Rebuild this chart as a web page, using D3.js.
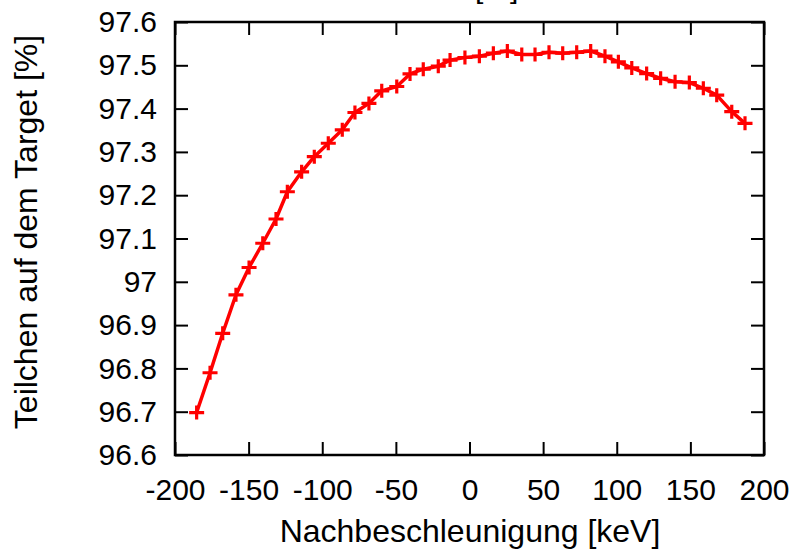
<!DOCTYPE html>
<html>
<head>
<meta charset="utf-8">
<script src="https://cdn.jsdelivr.net/npm/d3@7"></script>
<style>
  html, body { margin: 0; padding: 0; background: #fff; }
  svg { display: block; }
  text { font-family: "Liberation Sans", Arial, Helvetica, sans-serif; fill: #000; }
</style>
</head>
<body>
<svg id="chart" width="797" height="552"></svg>
<script>
// Post-acceleration voltage [keV]
const energy = [
  -185.3, -176.2, -167.6, -158.6, -149.7, -140.4, -131.4, -123.7, -114.0, -105.4,
  -95.9, -86.4, -77.8, -68.3, -59.6, -49.4, -40.4, -31.4, -21.2, -13.2,
  -3.1, 6.7, 16.2, 25.7, 35.5, 44.5, 54.0, 63.3, 72.8, 82.3,
  92.0, 101.1, 110.2, 120.3, 129.8, 139.6, 149.3, 158.8, 167.9, 178.1, 187.1
];
// Fraction of particles hitting the target [%]
const onTarget = [
  96.698, 96.790, 96.881, 96.970, 97.033, 97.089, 97.145, 97.208, 97.254, 97.289,
  97.320, 97.351, 97.391, 97.412, 97.441, 97.451, 97.480, 97.491, 97.498, 97.512,
  97.518, 97.521, 97.528, 97.533, 97.525, 97.525, 97.530, 97.528, 97.530, 97.533,
  97.521, 97.508, 97.494, 97.481, 97.470, 97.462, 97.460, 97.447, 97.431, 97.393, 97.366
];
const xTicks = [-200, -150, -100, -50, 0, 50, 100, 150, 200];
const yTicks = [96.6, 96.7, 96.8, 96.9, 97.0, 97.1, 97.2, 97.3, 97.4, 97.5, 97.6];
const xTitle = "Nachbeschleunigung [keV]";
const yTitle = "Teilchen auf dem Target [%]";
const topTitle = "[%]";

const svg = d3.select("#chart");
const plotL = 175, plotR = 764, plotT = 22, plotB = 455;
const TICK_FONT = 30, TITLE_FONT = 32;

const x = d3.scaleLinear().domain([-200, 200]).range([plotL, plotR]);
const y = d3.scaleLinear().domain([96.6, 97.6]).range([plotB, plotT]);

// Title, mostly above the visible area
svg.append("text")
  .attr("x", 475).attr("y", -2)
  .attr("font-size", TICK_FONT)
  .text(topTitle);

function styleAxis(g) {
  g.select(".domain").remove();
  g.selectAll(".tick line").attr("stroke", "#000").attr("stroke-width", 2);
  g.selectAll(".tick text").attr("font-size", TICK_FONT)
    .attr("font-family", "'Liberation Sans', Arial, sans-serif").attr("fill", "#000");
}

// Bottom axis with inward ticks
svg.append("g").attr("transform", `translate(0,${plotB})`)
  .call(d3.axisBottom(x).tickValues(xTicks).tickSize(-13).tickPadding(24)
    .tickFormat(d => String(d)))
  .call(styleAxis);

// Mirrored top ticks
svg.append("g").attr("transform", `translate(0,${plotT})`)
  .call(d3.axisTop(x).tickValues(xTicks).tickSize(-13).tickFormat(""))
  .call(styleAxis);

// Left axis with inward ticks
svg.append("g").attr("transform", `translate(${plotL},0)`)
  .call(d3.axisLeft(y).tickValues(yTicks).tickSize(-13).tickPadding(18)
    .tickFormat(d => String(+d.toFixed(1))))
  .call(styleAxis);

// Mirrored right ticks
svg.append("g").attr("transform", `translate(${plotR},0)`)
  .call(d3.axisRight(y).tickValues(yTicks).tickSize(-13).tickFormat(""))
  .call(styleAxis);

// Plot frame
svg.append("rect")
  .attr("x", plotL).attr("y", plotT)
  .attr("width", plotR - plotL).attr("height", plotB - plotT)
  .attr("fill", "none").attr("stroke", "#000").attr("stroke-width", 2.5);

// Axis titles
svg.append("text")
  .attr("x", 470).attr("y", 542)
  .attr("text-anchor", "middle").attr("font-size", TITLE_FONT)
  .text(xTitle);

svg.append("text")
  .attr("transform", "translate(37,232) rotate(-90)")
  .attr("text-anchor", "middle").attr("font-size", TITLE_FONT)
  .text(yTitle);

// Data line with "+" markers
const pts = energy.map((e, i) => [e, onTarget[i]]);
const line = d3.line().x(d => x(d[0])).y(d => y(d[1]));

svg.append("path")
  .datum(pts)
  .attr("d", line)
  .attr("fill", "none")
  .attr("stroke", "#ff0000")
  .attr("stroke-width", 3.5)
  .attr("stroke-linejoin", "round");

svg.append("g").selectAll("path.marker")
  .data(pts)
  .join("path")
  .attr("class", "marker")
  .attr("transform", d => `translate(${x(d[0])},${y(d[1])})`)
  .attr("d", "M-7.5,0H7.5M0,-7V7")
  .attr("fill", "none")
  .attr("stroke", "#ff0000")
  .attr("stroke-width", 3.2);
</script>
</body>
</html>
